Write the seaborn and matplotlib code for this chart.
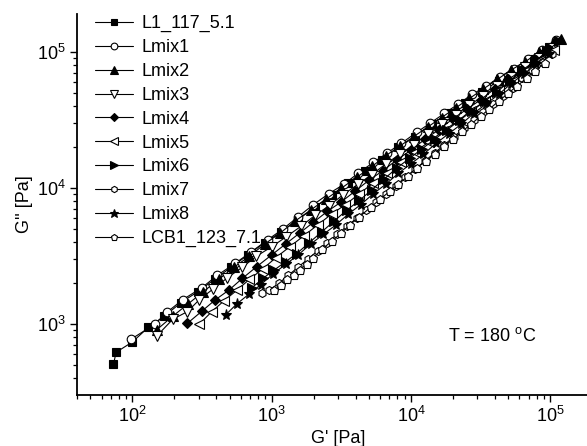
import numpy as np
import pandas as pd
import matplotlib
matplotlib.use("Agg")
import matplotlib.pyplot as plt
import seaborn as sns
from matplotlib.ticker import LogLocator, NullFormatter

# ---- data (log10 of G' and G'' in Pa) ----
l1_logGp = [1.864, 1.883, 2.00, 2.115, 2.23, 2.35, 2.47, 2.59, 2.71, 2.83, 2.95, 3.07, 3.19, 3.31,
            3.43, 3.55, 3.67, 3.79, 3.91, 4.03, 4.15, 4.27, 4.39, 4.51, 4.63, 4.75, 4.87, 4.99]
l1_logGpp = [2.706, 2.794, 2.87, 2.978, 3.06, 3.16, 3.24, 3.33, 3.42, 3.51, 3.60, 3.68, 3.77, 3.86,
             3.95, 4.04, 4.13, 4.21, 4.30, 4.38, 4.47, 4.55, 4.63, 4.71, 4.79, 4.87, 4.95, 5.04]

lmix1_logGp = [1.99, 2.16, 2.25, 2.36, 2.50, 2.61, 2.74, 2.85, 2.97, 3.08, 3.19, 3.30, 3.41, 3.52, 3.62,
               3.73, 3.83, 3.93, 4.04, 4.14, 4.24, 4.34, 4.44, 4.54, 4.64, 4.74, 4.84, 4.94, 5.04]
lmix1_logGpp = [2.89, 3.00, 3.09, 3.18, 3.27, 3.36, 3.45, 3.53, 3.62, 3.70, 3.79, 3.88, 3.96, 4.03, 4.11,
                4.19, 4.26, 4.33, 4.41, 4.48, 4.55, 4.62, 4.69, 4.75, 4.82, 4.88, 4.95, 5.02, 5.09]

lmix2_logGp = [2.175, 2.29, 2.40, 2.51, 2.62, 2.73, 2.84, 2.95, 3.06, 3.17, 3.28, 3.39, 3.50, 3.61, 3.72,
               3.82, 3.92, 4.02, 4.12, 4.22, 4.32, 4.42, 4.52, 4.62, 4.72, 4.82, 4.92, 5.02, 5.08]
lmix2_logGpp = [2.96, 3.06, 3.15, 3.24, 3.33, 3.42, 3.50, 3.59, 3.67, 3.76, 3.84, 3.92, 4.00, 4.08, 4.16,
                4.24, 4.31, 4.38, 4.45, 4.52, 4.59, 4.66, 4.73, 4.80, 4.87, 4.93, 5.00, 5.07, 5.10]

lmix3_logGp = [2.175, 2.29, 2.395, 2.48, 2.58, 2.68, 2.79, 2.89, 3.00, 3.10, 3.21, 3.31, 3.41, 3.51, 3.62,
               3.72, 3.82, 3.92, 4.02, 4.12, 4.22, 4.32, 4.42, 4.52, 4.62, 4.72, 4.82, 4.92, 5.02]
lmix3_logGpp = [2.914, 3.037, 3.093, 3.18, 3.26, 3.34, 3.42, 3.50, 3.57, 3.64, 3.72, 3.80, 3.87, 3.95, 4.03,
                4.10, 4.18, 4.25, 4.32, 4.40, 4.47, 4.54, 4.61, 4.68, 4.75, 4.82, 4.89, 4.96, 5.03]

lmix4_logGp = [2.395, 2.503, 2.594, 2.694, 2.79, 2.893, 3.00, 3.10, 3.20, 3.30, 3.40, 3.50, 3.60, 3.70,
               3.80, 3.90, 4.00, 4.10, 4.20, 4.30, 4.40, 4.50, 4.60, 4.70, 4.80, 4.90, 5.00]
lmix4_logGpp = [3.007, 3.10, 3.179, 3.252, 3.338, 3.424, 3.51, 3.59, 3.67, 3.75, 3.83, 3.90, 3.98, 4.06,
                4.13, 4.21, 4.28, 4.36, 4.43, 4.51, 4.58, 4.65, 4.73, 4.80, 4.87, 4.94, 5.02]

lmix5_logGp = [2.479, 2.57, 2.659, 2.75, 2.84, 2.94, 3.03, 3.13, 3.23, 3.33, 3.43, 3.53, 3.63, 3.73,
               3.83, 3.93, 4.03, 4.13, 4.23, 4.33, 4.43, 4.53, 4.63, 4.73, 4.83, 4.93, 5.03]
lmix5_logGpp = [3.00, 3.093, 3.174, 3.25, 3.33, 3.41, 3.49, 3.57, 3.65, 3.73, 3.81, 3.88, 3.96, 4.04,
                4.11, 4.19, 4.27, 4.34, 4.42, 4.49, 4.57, 4.64, 4.72, 4.79, 4.87, 4.94, 5.02]

lmix6_logGp = [2.86, 2.94, 3.02, 3.10, 3.18, 3.27, 3.36, 3.45, 3.54, 3.63, 3.72, 3.81, 3.90, 3.99,
               4.08, 4.17, 4.26, 4.35, 4.44, 4.53, 4.62, 4.71, 4.80, 4.89, 4.98, 5.06]
lmix6_logGpp = [3.27, 3.34, 3.40, 3.46, 3.52, 3.60, 3.68, 3.76, 3.84, 3.91, 3.99, 4.07, 4.15, 4.22,
                4.29, 4.36, 4.43, 4.50, 4.57, 4.64, 4.71, 4.79, 4.86, 4.93, 5.01, 5.08]

lmix7_logGp = [2.93, 2.98, 3.05, 3.12, 3.19, 3.26, 3.33, 3.40, 3.47, 3.54, 3.61, 3.68, 3.75, 3.82, 3.89,
               3.96, 4.03, 4.10, 4.17, 4.24, 4.31, 4.38, 4.45, 4.52, 4.59, 4.66, 4.73, 4.80, 4.87, 4.94, 5.01]
lmix7_logGpp = [3.23, 3.25, 3.30, 3.36, 3.42, 3.48, 3.54, 3.60, 3.66, 3.72, 3.78, 3.84, 3.90, 3.96, 4.02,
                4.08, 4.14, 4.20, 4.26, 4.32, 4.38, 4.44, 4.50, 4.56, 4.62, 4.68, 4.74, 4.81, 4.87, 4.93, 4.99]

lmix8_logGp = [2.67, 2.75, 2.835, 2.92, 3.01, 3.10, 3.19, 3.28, 3.37, 3.46, 3.55, 3.64, 3.73, 3.82,
               3.91, 4.00, 4.09, 4.18, 4.27, 4.36, 4.45, 4.54, 4.63, 4.72, 4.81, 4.90, 4.99]
lmix8_logGpp = [3.07, 3.15, 3.22, 3.29, 3.37, 3.44, 3.51, 3.59, 3.66, 3.73, 3.81, 3.88, 3.96, 4.03,
                4.11, 4.18, 4.25, 4.33, 4.40, 4.47, 4.55, 4.62, 4.69, 4.77, 4.84, 4.91, 4.99]

lcb1_logGp = [3.02, 3.07, 3.11, 3.16, 3.20, 3.25, 3.30, 3.36, 3.43, 3.50, 3.56, 3.63, 3.71, 3.78, 3.85, 3.91,
              3.98, 4.04, 4.11, 4.17, 4.24, 4.30, 4.37, 4.43, 4.50, 4.56, 4.63, 4.70, 4.76, 4.83, 4.89, 4.96]
lcb1_logGpp = [3.25, 3.29, 3.33, 3.36, 3.40, 3.44, 3.49, 3.55, 3.61, 3.67, 3.73, 3.79, 3.86, 3.92, 3.98, 4.03,
               4.09, 4.15, 4.20, 4.25, 4.31, 4.36, 4.42, 4.47, 4.53, 4.58, 4.64, 4.70, 4.75, 4.81, 4.86, 4.92]

series_names = ["L1_117_5.1", "Lmix1", "Lmix2", "Lmix3", "Lmix4", "Lmix5", "Lmix6", "Lmix7",
                "Lmix8", "LCB1_123_7.1"]
series_gp = [l1_logGp, lmix1_logGp, lmix2_logGp, lmix3_logGp, lmix4_logGp, lmix5_logGp,
             lmix6_logGp, lmix7_logGp, lmix8_logGp, lcb1_logGp]
series_gpp = [l1_logGpp, lmix1_logGpp, lmix2_logGpp, lmix3_logGpp, lmix4_logGpp, lmix5_logGpp,
              lmix6_logGpp, lmix7_logGpp, lmix8_logGpp, lcb1_logGpp]

# styles
markers = ["s", "o", "^", "v", "D", "<", ">", "h", "*", "p"]
filled = [True, False, True, False, True, False, True, False, True, False]
msizes = [5.5, 6.2, 6.6, 6.6, 5.3, 6.6, 6.6, 5.8, 8.0, 6.3]

sns.set_style("ticks")
plt.rcParams["font.family"] = ["Liberation Sans", "DejaVu Sans"]
plt.rcParams["mathtext.fontset"] = "custom"
plt.rcParams["mathtext.rm"] = "Liberation Sans"
plt.rcParams["mathtext.it"] = "Liberation Sans:italic"
plt.rcParams["mathtext.bf"] = "Liberation Sans:bold"
plt.rcParams["text.color"] = "black"
plt.rcParams["axes.labelcolor"] = "black"
plt.rcParams["xtick.color"] = "black"
plt.rcParams["ytick.color"] = "black"

W, H = 587, 446
fig = plt.figure(figsize=(W / 100, H / 100), dpi=100)
ax = fig.add_axes([77 / W, 51 / H, 522 / W, 381 / H])

for name, gp, gpp, m, f, s in zip(series_names, series_gp, series_gpp, markers, filled, msizes):
    df = pd.DataFrame({"Gp": np.power(10.0, gp), "Gpp": np.power(10.0, gpp)})
    sns.lineplot(data=df, x="Gp", y="Gpp", ax=ax, sort=False, estimator=None,
                 color="black", linewidth=0.8, marker=m, markersize=s,
                 markerfacecolor="black" if f else "white", mec="black", mew=0.8,
                 label=name, legend=False)

ax.set_xscale("log")
ax.set_yscale("log")
ax.set_xlim(40, 2.24e5)
ax.set_ylim(302, 1.91e5)

for side in ["top", "right"]:
    ax.spines[side].set_visible(False)
for side in ["left", "bottom"]:
    ax.spines[side].set_linewidth(1.3)
    ax.spines[side].set_color("black")

ax.xaxis.set_major_locator(LogLocator(base=10, numticks=10))
ax.yaxis.set_major_locator(LogLocator(base=10, numticks=10))
ax.xaxis.set_minor_locator(LogLocator(base=10, subs=np.arange(2, 10), numticks=20))
ax.yaxis.set_minor_locator(LogLocator(base=10, subs=np.arange(2, 10), numticks=20))
ax.xaxis.set_minor_formatter(NullFormatter())
ax.yaxis.set_minor_formatter(NullFormatter())
ax.tick_params(which="major", direction="out", length=4.8, width=1.0, labelsize=13, pad=3)
ax.tick_params(which="minor", direction="out", length=2.6, width=0.9)

ax.set_xlabel("G' [Pa]", fontsize=13, labelpad=3)
ax.set_ylabel("G'' [Pa]", fontsize=13, labelpad=3)

handles, labels = ax.get_legend_handles_labels()
ax.legend(handles, labels, loc="upper left", bbox_to_anchor=(18 / 522, 0.997),
          frameon=False, fontsize=13, handlelength=2.1, handletextpad=0.5,
          labelspacing=0.38, borderaxespad=0, borderpad=0, markerscale=0.78)

fig.text(448 / W, 1 - 341 / H, r"T = 180 $^{\mathregular{o}}$C", fontsize=13, va="baseline")

fig.savefig("out.png", dpi=100)
